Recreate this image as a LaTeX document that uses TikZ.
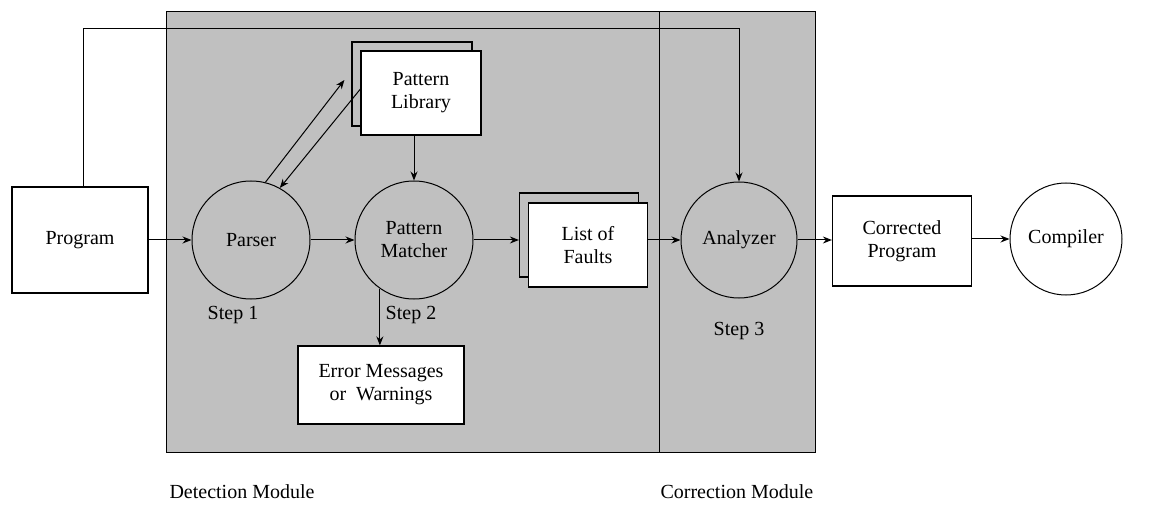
\documentclass[tikz,border=0pt]{standalone}
\usepackage{fontspec}
\setmainfont{Liberation Serif}
\newfontfamily\labelfont{Liberation Serif}
\usetikzlibrary{arrows.meta,positioning}
\definecolor{modgray}{RGB}{192,192,192}

\begin{document}
\begin{tikzpicture}[x=1pt,y=-1pt,>={Stealth[length=9pt,width=7pt]},
 every node/.style={font=\labelfont\fontsize{20}{23}\selectfont},
 module/.style={draw,line width=1pt,fill=modgray},
 block/.style={draw,line width=1.2pt,fill=white,align=center,inner sep=0pt},
 sheet/.style={draw,line width=1.2pt,inner sep=0pt},
 stage/.style={draw,circle,line width=1pt,inner sep=0pt,align=center,minimum size=118pt},
 flow/.style={->,line width=1pt}]
\useasboundingbox (0,0) rectangle (1149,505);
% the two modules
\draw[module] (166,12) rectangle (659,452);
\draw[module] (659,12) rectangle (815,452);
\node[anchor=west] (detlabel) at (166,492) {Detection Module};
\node[anchor=west] (corlabel) at (657,492) {Correction Module};

\node[block,minimum width=136pt,minimum height=106pt] (prog) at (80,240) {Program};
\node[stage] (parser) at (251,240) {Parser};
\node[stage] (matcher) at (414,240) {Pattern\\Matcher};
\node[stage,minimum size=116pt] (analyzer) at (739,240) {Analyzer};
\node[block,minimum width=139pt,minimum height=90pt] (corrected) at (902,241) {Corrected\\Program};
\node[stage,fill=white,minimum size=112pt] (compiler) at (1066,239) {Compiler};

% stacked sheets
\node[sheet,minimum width=120pt,minimum height=84pt] (libback) at (412,84) {};
\node[block,minimum width=120pt,minimum height=84pt] (lib) at ([shift={(9,9)}]libback) {Pattern\\Library};
\node[sheet,minimum width=119pt,minimum height=84pt] (faultsback) at (579,235) {};
\node[block,minimum width=119pt,minimum height=84pt] (faults) at ([shift={(9,10)}]faultsback) {List of\\Faults};

\node[block,minimum width=166pt,minimum height=78pt] (errors) at (381,385) {Error Messages\\or~~Warnings};

\node (step1) at (233,315) {Step 1};
\node (step2) at (411,315) {Step 2};
\node (step3) at (739,331) {Step 3};

% connectors
\coordinate (feed) at (0,29);
\draw[flow] ([xshift=3pt]prog.north) -- ([xshift=3pt]prog.north |- feed) -| (analyzer.north);
\draw[flow] (prog) -- (parser);
\draw[flow] (parser) -- (matcher);
\draw[flow] (matcher.east) -- (matcher.east -| faultsback.west);
\draw[flow] (faults.east |- analyzer) -- (analyzer.west);
\draw[flow] (analyzer.east) -- (analyzer.east -| corrected.west);
\draw[flow] (corrected.east |- compiler) -- (compiler.west);
\draw[flow] (parser.76) -- ([shift={(-7pt,4pt)}]libback.west);
\draw[flow] ([yshift=4pt]lib.west) -- (parser.61);
\draw[flow] (lib.south -| matcher.north) -- (matcher.north);
\draw[flow] (matcher.235) -- (matcher.235 |- errors.north);
\end{tikzpicture}
\end{document}
